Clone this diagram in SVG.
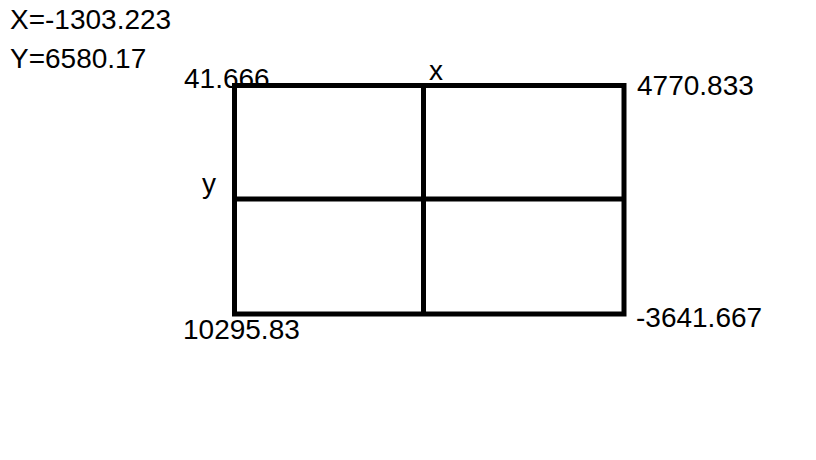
<svg xmlns="http://www.w3.org/2000/svg" width="816" height="460" viewBox="0 0 816 460">
<style>
.t{font-family:"Liberation Sans",Arial,sans-serif;font-size:28px;fill:#000}
.ln{stroke:#000;stroke-width:5;fill:none}
</style>
<rect width="816" height="460" fill="#fff"/>
<g id="labels">
<text class="t" x="10" y="29">X=-1303.223</text>
<text class="t" x="10" y="68">Y=6580.17</text>
</g>
<g id="grid">
<rect class="ln" x="234.5" y="85.5" width="389.5" height="228.5"/>
</g>
<g id="connectors">
<line class="ln" x1="423.5" y1="85.5" x2="423.5" y2="314"/>
<line class="ln" x1="234.5" y1="199" x2="624" y2="199"/>
</g>
<g id="corner-labels">
<text class="t" x="184" y="88">41.666</text>
<text class="t" x="637" y="95">4770.833</text>
<text class="t" x="183" y="339">10295.83</text>
<text class="t" x="636" y="327">-3641.667</text>
<text class="t" x="429" y="80">x</text>
<text class="t" x="202" y="193">y</text>
</g>
</svg>
